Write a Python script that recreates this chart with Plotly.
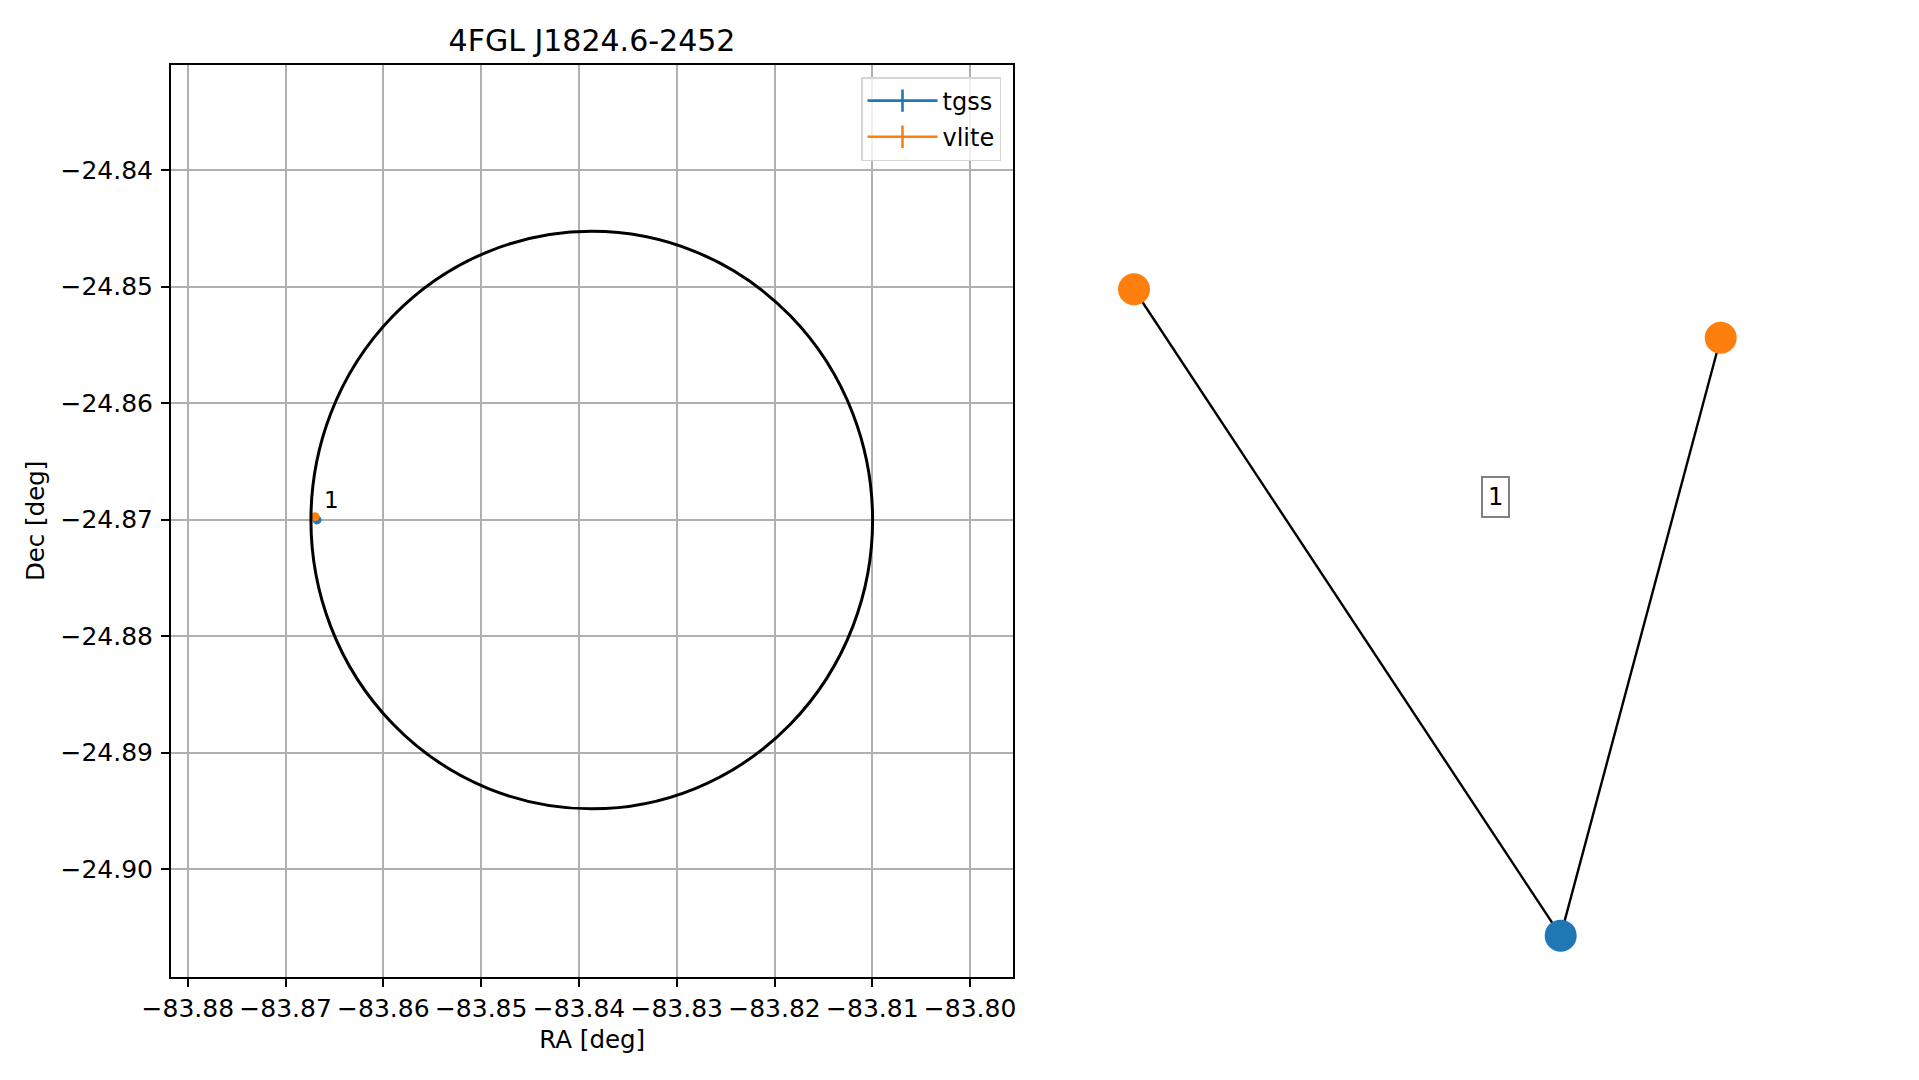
import plotly.graph_objects as go

# ---------------- data ----------------
title_text = "4FGL J1824.6-2452"

tgss_ra = [-83.86679]
tgss_dec = [-24.87003]
tgss_err_ra = [0.0002]
tgss_err_dec = [0.0002]

vlite_ra = [-83.86699]
vlite_dec = [-24.86975]
vlite_err_ra = [0.0002]
vlite_err_dec = [0.0002]

match_label = ["1"]

# 4FGL localisation region (centre and semi-axes in deg)
region_center_ra = -83.83869
region_center_dec = -24.87004
region_radius_ra = 0.02872
region_radius_dec = 0.02479

x_tick_vals = [-83.88, -83.87, -83.86, -83.85, -83.84, -83.83, -83.82, -83.81, -83.80]
x_tick_text = ["\u221283.88", "\u221283.87", "\u221283.86", "\u221283.85", "\u221283.84",
               "\u221283.83", "\u221283.82", "\u221283.81", "\u221283.80"]
y_tick_vals = [-24.84, -24.85, -24.86, -24.87, -24.88, -24.89, -24.90]
y_tick_text = ["\u221224.84", "\u221224.85", "\u221224.86", "\u221224.87",
               "\u221224.88", "\u221224.89", "\u221224.90"]
x_range = [-83.88172, -83.79557]
y_range = [-24.90924, -24.83098]

# network graph (layout coordinates)
node_names = ["vlite_a", "vlite_b", "tgss_a"]
node_x = [0.0515, 0.9405, 0.698]
node_y = [0.754, 0.7009, 0.045]
node_colors = ["#ff7f0e", "#ff7f0e", "#1f77b4"]
edges = [(2, 0), (2, 1)]
group_label = "1"
group_label_x = 0.5995
group_label_y = 0.526

BLUE = "#1f77b4"
ORANGE = "#ff7f0e"
FONT = "DejaVu Sans"
OFF = 8                      # page body margin
W, H = 1919 - 2 * OFF, 1080 - 2 * OFF


def fx(p):
    return (p - OFF) / W


def fy(p):
    return 1 - (p - OFF) / H


fig = go.Figure()

# ---- left panel ----
for name, ra, dec, era, edec, col in [
        ("tgss", tgss_ra, tgss_dec, tgss_err_ra, tgss_err_dec, BLUE),
        ("vlite", vlite_ra, vlite_dec, vlite_err_ra, vlite_err_dec, ORANGE)]:
    fig.add_trace(go.Scatter(
        x=ra, y=dec, mode="markers", name=name, showlegend=False, legendgroup=name,
        marker=dict(color=col, size=9),
        error_x=dict(type="data", array=era, color=col, thickness=2.4, width=0),
        error_y=dict(type="data", array=edec, color=col, thickness=2.4, width=0),
        xaxis="x", yaxis="y"))
    # legend glyph (errorbar style)
    fig.add_trace(go.Scatter(
        x=[None], y=[None], mode="lines+markers", name=name, legendgroup=name,
        line=dict(color=col, width=2.6),
        marker=dict(symbol="line-ns-open", size=16, color=col, line=dict(color=col, width=2.6)),
        xaxis="x", yaxis="y", hoverinfo="skip"))

fig.add_shape(type="circle", xref="x", yref="y",
              x0=region_center_ra - region_radius_ra, x1=region_center_ra + region_radius_ra,
              y0=region_center_dec - region_radius_dec, y1=region_center_dec + region_radius_dec,
              line=dict(color="black", width=3), layer="above")

for i, lab in enumerate(match_label):
    fig.add_annotation(x=vlite_ra[i], y=vlite_dec[i], xref="x", yref="y", text=lab,
                       showarrow=False, xshift=16, yshift=17,
                       font=dict(family=FONT, size=23, color="black"))

# ---- right panel (graph) ----
for (a, b) in edges:
    fig.add_trace(go.Scatter(x=[node_x[a], node_x[b]], y=[node_y[a], node_y[b]],
                             mode="lines", line=dict(color="black", width=2.4),
                             showlegend=False, hoverinfo="skip", xaxis="x2", yaxis="y2"))
fig.add_trace(go.Scatter(x=node_x, y=node_y, mode="markers", text=node_names,
                         marker=dict(color=node_colors, size=32, line=dict(width=0)),
                         showlegend=False, xaxis="x2", yaxis="y2"))
fig.add_annotation(x=group_label_x, y=group_label_y, xref="x2", yref="y2", text=group_label,
                   showarrow=False, bgcolor="white", bordercolor="#808080", borderwidth=2,
                   borderpad=5, font=dict(family=FONT, size=24, color="black"))

axis_common = dict(showline=True, linecolor="black", linewidth=2, mirror=True,
                   ticks="outside", ticklen=8, tickwidth=2, tickcolor="black",
                   showgrid=True, gridcolor="#b0b0b0", gridwidth=1.7, zeroline=False,
                   automargin=False,
                   tickfont=dict(family=FONT, size=25, color="black"))

fig.update_layout(
    width=W, height=H,
    margin=dict(l=0, r=0, t=0, b=0, pad=0, autoexpand=False),
    paper_bgcolor="white", plot_bgcolor="white",
    font=dict(family=FONT, color="black"),
    title=dict(text=title_text, x=fx(592), xanchor="center", y=fy(40), yanchor="middle",
               font=dict(family=FONT, size=30, color="black")),
    xaxis=dict(domain=[fx(171), fx(1013.4)], range=x_range, tickvals=x_tick_vals,
               ticktext=x_tick_text,
               title=dict(text="RA [deg]", standoff=9, font=dict(family=FONT, size=24.5)),
               **axis_common),
    yaxis=dict(domain=[fy(976.7), fy(65)], range=y_range, tickvals=y_tick_vals,
               ticktext=y_tick_text, ticklabelstandoff=3,
               title=dict(text="Dec [deg]", standoff=9, font=dict(family=FONT, size=24.5)),
               **axis_common),
    xaxis2=dict(domain=[fx(1100), fx(1760)], range=[0, 1], visible=False),
    yaxis2=dict(domain=[fy(976.7), fy(65)], range=[0, 1], visible=False),
    legend=dict(x=fx(1001), xanchor="right", y=fy(77), yanchor="top",
                bgcolor="rgba(255,255,255,0.8)", bordercolor="#d5d5d5", borderwidth=1.5,
                font=dict(family=FONT, size=24, color="black"),
                itemwidth=70, tracegroupgap=2),
    showlegend=True,
)

fig.write_html("out.html")
